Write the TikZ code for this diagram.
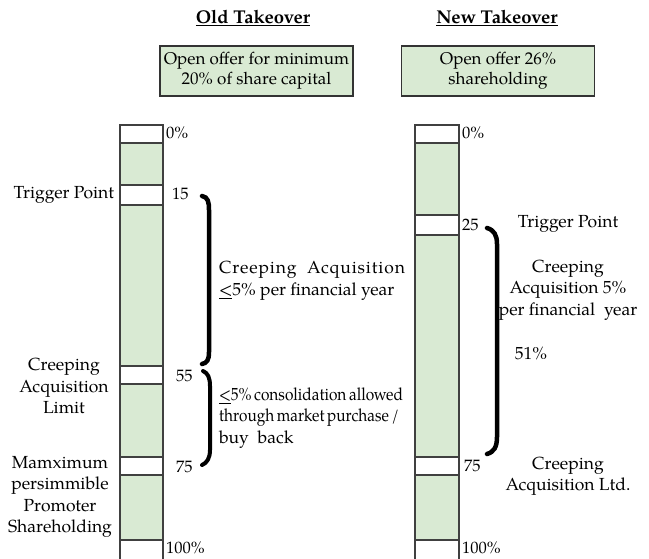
\documentclass[tikz,border=0pt]{standalone}
\usepackage{fontspec}
\setmainfont{TeX Gyre Pagella}
\begin{document}
\begin{tikzpicture}[x=1pt,y=-1pt,
  every node/.style={inner sep=0pt,outer sep=0pt},
  txt/.style={font=\fontsize{17.5}{21.5}\selectfont,align=center},
  num/.style={font=\fontsize{16.5}{20}\selectfont,anchor=west},
  head/.style={font=\fontsize{18.5}{20}\selectfont\bfseries},
  offerbox/.style={draw=black!80,line width=1.2pt,fill=barfill,minimum width=193pt,minimum height=50pt,align=center,font=\fontsize{17}{20}\selectfont},
  barline/.style={draw=black!75,line width=1.2pt},
  slot/.style={fill=white,draw=black!75,line width=1.2pt},
  bracket/.style={draw=black,line width=4.5pt,line cap=round}
]
\definecolor{barfill}{RGB}{217,234,211}
\useasboundingbox (0,0) rectangle (649,558);
\clip (0,0) rectangle (649,558);

% headings
\node[head] (oldhead) at (253,18) {\underline{Old Takeover}};
\node[head] (newhead) at (497,18) {\underline{New Takeover}};
\node[offerbox] (oldbox) at (256.5,71) {Open offer for minimum\\20\% of share capital};
\node[offerbox] (newbox) at (498,71) {Open offer 26\%\\shareholding};

% left bar
\fill[barfill] (120,125) rectangle (163,562);
\foreach \a/\b in {125/143,185/205,366/384,457/475,540/562}
  \draw[slot] (120,\a) rectangle (163,\b);
\draw[barline] (120,125) rectangle (163,562);

% right bar
\fill[barfill] (415,125) rectangle (459,562);
\foreach \a/\b in {125/143,215/235,457/475,540/562}
  \draw[slot] (415,\a) rectangle (459,\b);
\draw[barline] (415,125) rectangle (459,562);

% left numbers
\node[num] (l0) at (166,133) {0\%};
\node[num] (l15) at (172,194) {15};
\node[num] (l55) at (176,376) {55};
\node[num] (l75) at (176,467) {75};
\node[num] (l100) at (166,548) {100\%};
% right numbers
\node[num] (r0) at (462,133) {0\%};
\node[num] (r25) at (462,225) {25};
\node[num] (r75) at (464,466) {75};
\node[num] (r100) at (462,548) {100\%};

% left labels
\node[txt,anchor=east] (ltrig) at (114,195) {Trigger Point};
\node[txt] (llimit) at (64,386) {Creeping\\Acquisition\\Limit};
\node[txt] (lmax) at (60,497) {Mamximum\\persimmible\\Promoter\\Shareholding};

% middle texts
\node[txt,align=left,anchor=west] (creep) at (219,281)
  {{\addfontfeature{LetterSpace=5}Creeping\ \ Acquisition}\\\underline{<}5\% per financial year};
\node[txt,align=left,anchor=west] (cons) at (219,418)
  {\resizebox{184pt}{\height}{\underline{<}5\%\,consolidation\,allowed}\\\resizebox{180pt}{\height}{through\,market\,purchase\,/}\\buy\ \ back};

% right texts
\node[txt] (rtrig) at (568,224) {Trigger Point};
\node[txt] (rcreep) at (568,290) {Creeping\\Acquisition 5\%\\per financial\ \ year};
\node[txt] (r51) at (531,353) {51\%};
\node[txt] (rltd) at (568,476) {Creeping\\Acquisition Ltd.};

% brackets
\draw[bracket] (202,196) .. controls (208,197) and (209,202) .. (209,210) -- (209,352) .. controls (209,360) and (207,363) .. (202,364);
\draw[bracket,line width=4pt] (203,371) .. controls (208,373) and (210,378) .. (210,386) -- (210,450) .. controls (210,458) and (207,463) .. (202,465);
\draw[bracket] (487,228) .. controls (494,230) and (497,235) .. (497,244) -- (497,437) .. controls (497,447) and (494,452) .. (487,454);
\end{tikzpicture}
\end{document}
